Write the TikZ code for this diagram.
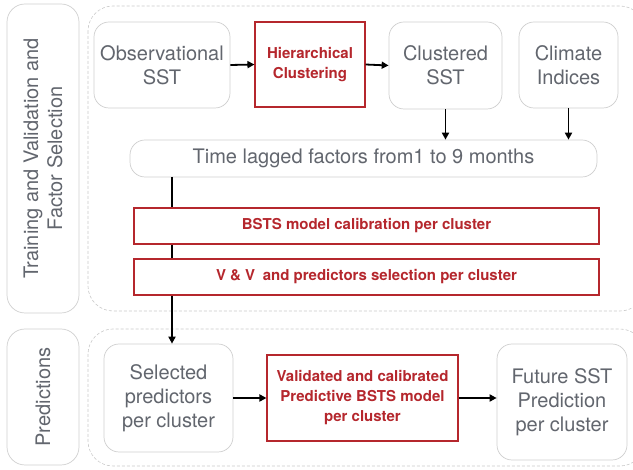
\documentclass[tikz,border=0pt]{standalone}
\usepackage{fontspec}
\setmainfont{TeX Gyre Heros}
\usetikzlibrary{arrows.meta}
\definecolor{txtgray}{HTML}{62666E}
\definecolor{boxgray}{HTML}{CFCFCF}
\definecolor{dashgray}{HTML}{C8C8C8}
\definecolor{accent}{HTML}{B5272D}
\tikzset{
  softbox/.style={draw=boxgray, line width=0.7pt, rounded corners=15pt, fill=white,
    text=txtgray, font=\fontsize{20}{24}\selectfont, align=center, inner sep=0pt},
  redbox/.style={draw=accent, line width=1.1pt, fill=white, text=accent,
    font=\fontsize{15}{20}\selectfont\bfseries, align=center, inner sep=0pt},
  sidebox/.style={draw=boxgray, line width=0.7pt, rounded corners=18pt,
    text=txtgray, font=\fontsize{20}{22}\selectfont, align=center},
  region/.style={draw=dashgray, line width=0.6pt, dash pattern=on 3pt off 2pt, rounded corners=25pt},
  flow/.style={-{Triangle[length=7pt,width=7pt]}, line width=1.8pt, black},
}
\begin{document}
\begin{tikzpicture}[x=1pt,y=-1pt]
\useasboundingbox (0,0) rectangle (633,470);
\clip (0,0) rectangle (633,470);
% phase containers
\draw[region] (88,6) rectangle (645,311);
\draw[region] (88,329) rectangle (645,466);
% phase labels
\draw[sidebox] (7,4) rectangle (79,313);
\node[text=txtgray, font=\fontsize{20}{24}\selectfont, align=center, rotate=90] (lab1) at (43,158.5) {Training and Validation and\\Factor Selection};
\draw[sidebox] (7,329) rectangle (79,465);
\node[text=txtgray, font=\fontsize{20}{24}\selectfont, rotate=90] (lab2) at (43,397) {Predictions};
% training row
\node[softbox, minimum width=136pt, minimum height=86pt] (obs) at (162,65) {Observational\\SST};
\node[redbox, minimum width=110pt, minimum height=85pt, rounded corners=0pt] (hc) at (310,64.5) {Hierarchical\\Clustering};
\node[softbox, minimum width=113pt, minimum height=87pt] (cs) at (445.5,65.5) {Clustered\\SST};
\node[softbox, minimum width=99pt, minimum height=86pt] (ci) at (568.5,65) {Climate\\Indices};
\node[softbox, minimum width=467pt, minimum height=37pt] (tl) at (363.5,158.5) {Time lagged factors from1 to 9 months};
% vertical link from lagged factors to selected predictors (behind the red boxes)
\coordinate (tlx) at (172,177);
\node[softbox, minimum width=129pt, minimum height=108pt] (sp) at (168.5,398) {Selected\\predictors\\per cluster};
\draw[flow] (tlx) -- (sp.north -| tlx);
\node[redbox, minimum width=465pt, minimum height=36pt] (bsts) at (366.5,226) {BSTS model calibration per cluster};
\node[redbox, minimum width=465pt, minimum height=36pt] (vv) at (366.5,277) {V \& V\enspace and predictors selection per cluster};
% prediction row
\node[redbox, minimum width=191pt, minimum height=86pt] (vc) at (362.5,398) {Validated and calibrated\\Predictive BSTS model\\per cluster};
\node[softbox, minimum width=130pt, minimum height=116pt] (fs) at (562,402) {Future SST\\Prediction\\per cluster};
% arrows
\draw[flow] (obs.east) -- (hc.west);
\draw[flow] (hc.east) -- (cs.west);
\draw[flow] (cs.south) -- (cs.south |- tl.north);
\draw[flow] (ci.south) -- (ci.south |- tl.north);
\draw[flow] (sp.east |- vc.west) -- (vc.west);
\draw[flow] (vc.east) -- (fs.west |- vc.east);
\end{tikzpicture}
\end{document}
